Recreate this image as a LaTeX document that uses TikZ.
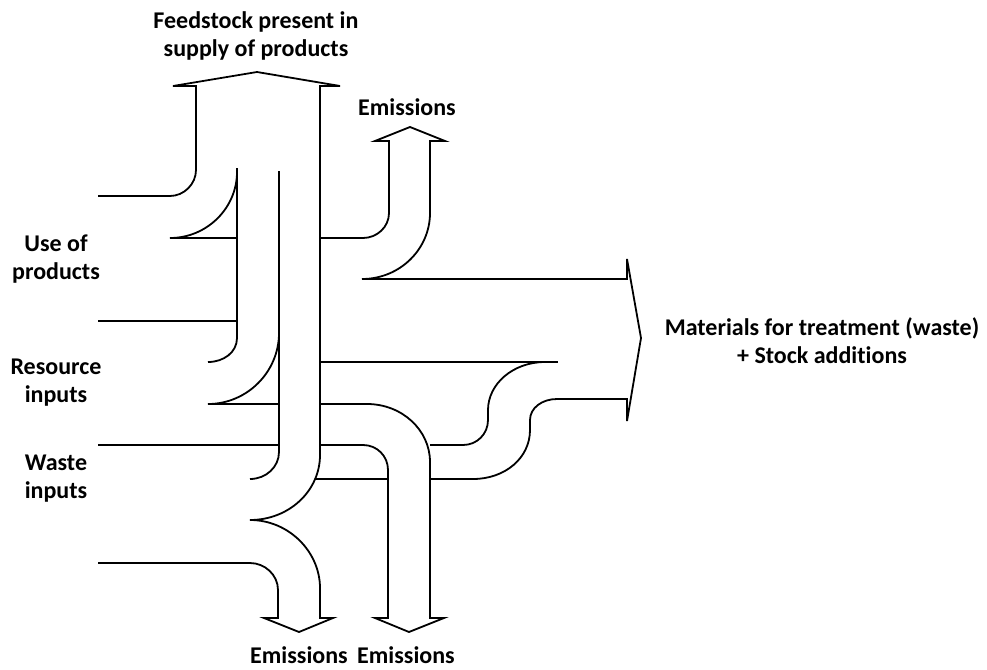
\documentclass[tikz,border=0pt]{standalone}
\usepackage{fontspec}
\setmainfont{Carlito}[Ligatures=NoCommon]

\begin{document}
\begin{tikzpicture}[x=1pt, y=-1pt, line width=1.8pt, line join=miter,
  lbl/.style={font=\fontsize{24}{28}\selectfont\bfseries, align=center, inner sep=0pt}]

  \useasboundingbox (0,0) rectangle (987,669);

  % -- Feedstock arrow (up) and first emissions arrow (down) --
  \draw (98,196) -- (170,196) .. controls (184,196) and (196,184) .. (196,170) -- (196,86)
        -- (173,86) -- (257,72) -- (340,86) -- (320,86) -- (320,455)
        .. controls (320,491) and (289,520) .. (250,520)
        .. controls (289,520) and (320,552) .. (320,588) -- (320,618)
        -- (333,618) -- (299,632) -- (264,618) -- (278,618) -- (278,590)
        .. controls (278,575) and (265,563) .. (250,563) -- (98,563);

  % -- Use of products --
  \draw (237,168) -- (237,338) .. controls (237,352) and (224,362) .. (208,362);
  \draw (237,172) .. controls (237,208) and (207,238) .. (170,238) -- (237,238);
  \draw (98,321) -- (237,321);

  % -- Resource inputs --
  \draw (279,171) -- (279,452) .. controls (279,467) and (266,479) .. (250,479);
  \draw (279,333) .. controls (279,372) and (247,404) .. (208,404) -- (279,404);
  \draw (98,445) -- (279,445);

  % -- Emissions (top) and materials arrow (right) --
  \draw (320,238) -- (363,238) .. controls (377,238) and (389,227) .. (389,213) -- (389,141)
        -- (375,141) -- (410,127) -- (445,141) -- (430,141) -- (430,213)
        .. controls (430,249) and (400,279) .. (362,279) -- (627,279)
        -- (627,259) -- (641,338) -- (627,421) -- (627,399) -- (557,399)
        .. controls (542,399) and (530,408) .. (530,420) -- (530,430)
        .. controls (530,458) and (505,479) .. (473,479) -- (430,479);
  \draw (320,362) -- (558,362);
  \draw (430,445) -- (463,445) .. controls (477,445) and (488,434) .. (488,420) -- (488,410)
        .. controls (488,384) and (513,362) .. (545,362);

  % -- Second emissions arrow (down) --
  \draw (320,404) -- (367,404) .. controls (402,404) and (430,430) .. (430,462) -- (430,618)
        -- (444,618) -- (409,632) -- (375,618) -- (388,618) -- (388,470)
        .. controls (388,456) and (377,445) .. (363,445) -- (320,445);
  \draw (315,479) -- (388,479);

  % -- Labels --
  \node[lbl] (feed) at (256,36) {Feedstock present in\\supply of products};
  \node[lbl] (emTop) at (407,107) {Emissions};
  \node[lbl] (useProd) at (56,259) {Use of\\products};
  \node[lbl] (resIn) at (56,383) {Resource\\inputs};
  \node[lbl] (wasteIn) at (56,479) {Waste\\inputs};
  \node[lbl] (emLeft) at (299,655) {Emissions};
  \node[lbl] (emRight) at (406,655) {Emissions};
  \node[lbl] (matStock) at (822,341) {Materials for treatment (waste)\\+ Stock additions};

\end{tikzpicture}
\end{document}
